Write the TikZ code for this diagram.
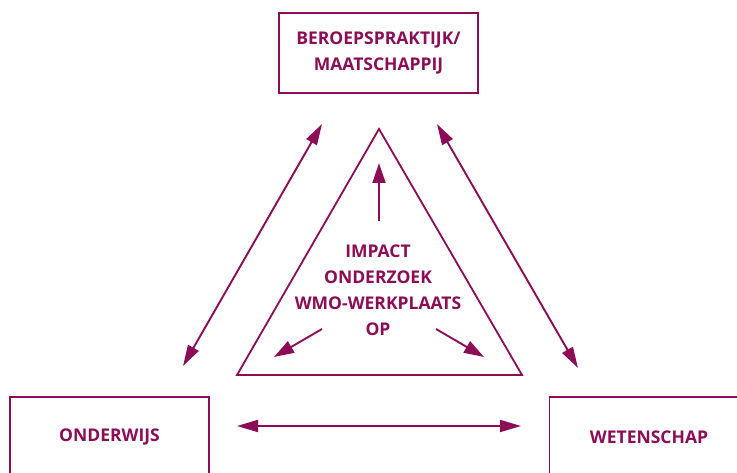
\documentclass[tikz,border=0pt]{standalone}
\usepackage{fontspec}
\setmainfont{Open Sans}
\usetikzlibrary{arrows.meta}
\definecolor{wine}{RGB}{140,12,86}
\begin{document}
\begin{tikzpicture}[x=1pt,y=-1pt,
  box/.style={draw=wine,line width=1.8pt,minimum width=199pt,minimum height=80pt,inner sep=0pt,
    text=wine,font=\fontsize{17.5}{25.5}\selectfont\bfseries,align=center},
  conn/.style={draw=wine,line width=1.9pt,{Triangle[length=21pt,width=12pt]}-{Triangle[length=21pt,width=12pt]}},
  inarr/.style={draw=wine,line width=1.9pt,-{Triangle[length=20pt,width=13pt]}},
  lbl/.style={text=wine,font=\fontsize{17.5}{26}\selectfont\bfseries,align=center}]
\useasboundingbox (0,0) rectangle (737,473);
\clip (0,0) rectangle (737,473);
\node[box] (top) at (378.5,53) {BEROEPSPRAKTIJK/\\MAATSCHAPPIJ};
\node[box] (onder) at (109.5,437) {ONDERWIJS};
\node[box] (weten) at (649,437) {WETENSCHAP};
% triangle
\coordinate (ta) at (379,129);
\coordinate (tl) at (237,375);
\coordinate (tr) at (522,375);
\draw[wine,line width=1.8pt,line join=miter] (ta) -- (tl) -- (tr) -- cycle;
\node[lbl] (impact) at (378,290) {IMPACT\\ONDERZOEK\\WMO-WERKPLAATS\\OP};
% connectors between boxes
\coordinate (l1) at (322,124); \coordinate (l2) at (183,366);
\coordinate (r1) at (437,124); \coordinate (r2) at (578,368);
\coordinate (h1) at (237,426); \coordinate (h2) at (521,426);
\draw[conn] (l1) -- (l2);
\draw[conn] (r1) -- (r2);
\draw[conn] (h1) -- (h2);
% inner arrows
\coordinate (u0) at (379,221); \coordinate (u1) at (379,163);
\coordinate (a0) at (322,329); \coordinate (a1) at (274,357);
\coordinate (b0) at (436,329); \coordinate (b1) at (484,357);
\draw[inarr] (u0) -- (u1);
\draw[inarr] (a0) -- (a1);
\draw[inarr] (b0) -- (b1);
\end{tikzpicture}
\end{document}
